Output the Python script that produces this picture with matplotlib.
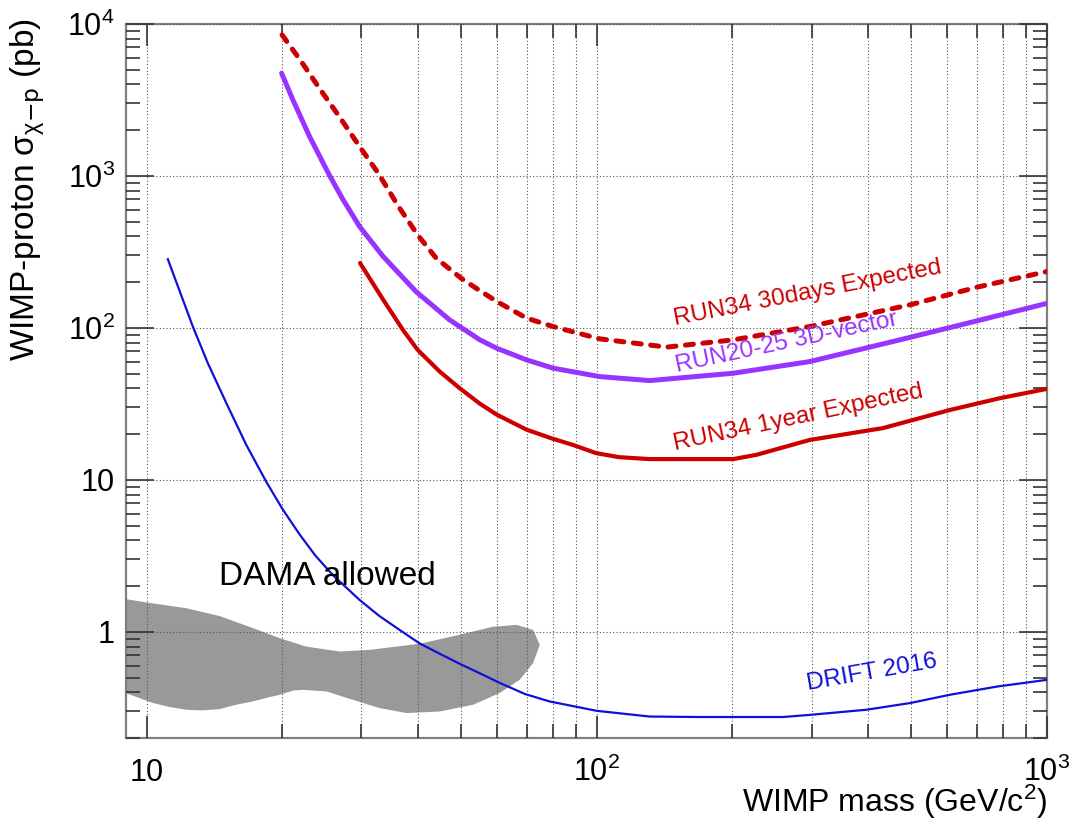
import numpy as np
import matplotlib
matplotlib.use("Agg")
import matplotlib.pyplot as plt
from matplotlib.ticker import FixedLocator, NullFormatter

# --- SETTINGS ---
plt.rcParams["font.family"] = ["Liberation Sans", "DejaVu Sans"]
plt.rcParams["mathtext.default"] = "regular"

# --- DATA ---
# DRIFT 2016 limit
drift_mass = [11.15, 12.67, 13.68, 15.04, 16.65, 18.45, 20.05, 21.9, 23.74, 25.9, 29.73,
              32.9, 37.0, 40.4, 44.8, 49.6, 55, 60.8, 69.2, 78.6, 100, 131, 169, 259,
              297, 397, 497, 608, 773, 1000]
drift_xsec = [283, 102, 58.6, 31.96, 17.0, 9.7, 6.41, 4.35, 3.16, 2.37, 1.62,
              1.27, 1.0, 0.839, 0.717, 0.616, 0.533, 0.462, 0.39, 0.348, 0.302, 0.277,
              0.275, 0.275, 0.284, 0.307, 0.34, 0.385, 0.436, 0.483]

# RUN20-25 3D-vector
run2025_mass = [19.95, 21.14, 23.02, 25.5, 27.3, 29.73, 33.5, 39.7, 47.1, 55, 59.9,
                69.8, 80, 101.5, 131, 201, 297, 471, 663, 1000]
run2025_xsec = [4740, 3162, 1814, 1005, 700, 464, 296, 173, 112.9, 83.4, 73.5,
                61.6, 54.3, 47.8, 45, 50.3, 60, 83.4, 107, 145]

# RUN34 30days expected
run34_30d_mass = [20.0, 22.07, 24.2, 26.8, 29.73, 32.7, 36.2, 40, 44.0, 50.0, 54.0,
                  60, 69.8, 80, 101.5, 143, 201, 297, 497, 698, 1000]
run34_30d_xsec = [8470, 5650, 3776, 2456, 1560, 1042, 635, 409, 287, 212, 182,
                  149, 116, 102, 84.7, 74.7, 83.4, 102, 142, 185, 235]

# RUN34 1year expected
run34_1y_mass = [29.8, 33.5, 37.1, 40, 44.8, 49.6, 55, 59.9, 69.8, 80, 88.4, 99.6,
                 112, 131, 155, 201, 226, 297, 432, 608, 787, 1000]
run34_1y_xsec = [267, 154, 97, 71.7, 51.5, 40.1, 31.7, 26.9, 21.4, 18.6, 17.0, 15.0,
                 14.1, 13.7, 13.7, 13.7, 14.6, 18.3, 21.9, 28.8, 34.5, 39.7]

# DAMA allowed region (closed contour: upper edge, then lower edge back)
dama_mass = [8.5, 9.0, 10, 12.25, 14.53, 17.2, 19.75, 22.6, 26.85, 31.3, 40.4, 49.6,
             58.8, 66.3, 72.2, 74.7, 72.2, 67.4, 60.8, 53.1, 44.8, 37.8, 32.9, 28.7,
             25.1, 22.25, 21.2, 19.75, 18.76, 17.2, 15.8, 14.53, 13.3, 12.25, 11.25,
             10.33, 9.0, 8.5]
dama_xsec = [1.66, 1.64, 1.56, 1.43, 1.27, 1.06, 0.909, 0.80, 0.742, 0.761, 0.834, 0.956,
             1.08, 1.11, 1.03, 0.82, 0.622, 0.483, 0.395, 0.331, 0.299, 0.292, 0.315,
             0.357, 0.405, 0.415, 0.411, 0.385, 0.372, 0.348, 0.331, 0.31, 0.304, 0.307,
             0.32, 0.34, 0.395, 0.42]

x_major = [10, 100, 1000]
x_major_labels = ["10", "$10^{2}$", "$10^{3}$"]
y_major = [1, 10, 100, 1000, 10000]
y_major_labels = ["1", "10", "$10^{2}$", "$10^{3}$", "$10^{4}$"]

red = "#cc0000"
purple = "#9933ff"
blue = "#1010d8"

# --- CREATE FIGURE ---
fig = plt.figure(figsize=(10.72, 8.26), dpi=100)
ax = fig.add_axes([0.1175, 0.1065, 0.8592, 0.8645])
ax.set_xscale("log")
ax.set_yscale("log")
ax.set_xlim(9, 1000)
ax.set_ylim(0.2, 1e4)

# --- DRAW ---
ax.fill(dama_mass, dama_xsec, color="#999999", lw=0, zorder=1)
ax.plot(drift_mass, drift_xsec, color=blue, lw=1.6, zorder=3,
        solid_joinstyle="round")
ax.plot(run2025_mass, run2025_xsec, color=purple, lw=3.6, zorder=3,
        solid_capstyle="round", solid_joinstyle="round")
ax.plot(run34_1y_mass, run34_1y_xsec, color=red, lw=3.0, zorder=3,
        solid_capstyle="round", solid_joinstyle="round")
ax.plot(run34_30d_mass, run34_30d_xsec, color=red, lw=3.6, zorder=3,
        linestyle=(0, (1.6, 1.9)), dash_capstyle="round")

# --- AXES / TICKS ---
minor_x = [m * 10 ** k for k in range(0, 3) for m in range(2, 10)]
minor_x = [v for v in minor_x if 9 < v < 1000]
minor_y = [m * 10 ** k for k in range(-1, 4) for m in range(2, 10)]
minor_y = [v for v in minor_y if 0.2 <= v < 1e4]

ax.xaxis.set_major_locator(FixedLocator(x_major))
ax.xaxis.set_minor_locator(FixedLocator(minor_x))
ax.yaxis.set_major_locator(FixedLocator(y_major))
ax.yaxis.set_minor_locator(FixedLocator(minor_y))
ax.set_xticklabels(x_major_labels)
ax.set_yticklabels(y_major_labels)
ax.xaxis.set_minor_formatter(NullFormatter())
ax.yaxis.set_minor_formatter(NullFormatter())

ax.tick_params(axis="both", which="both", direction="in", top=True, right=True,
               color="#333333", width=1.2)
ax.tick_params(axis="x", which="major", length=16, labelsize=22, pad=31)
ax.tick_params(axis="x", which="minor", length=10)
ax.tick_params(axis="y", which="major", length=20, labelsize=22, pad=8)
ax.tick_params(axis="y", which="minor", length=10)
for lab in ax.get_xticklabels():
    lab.set_verticalalignment("baseline")

for sp in ax.spines.values():
    sp.set_color("#808080")
    sp.set_linewidth(1.6)

ax.set_axisbelow(False)
ax.grid(True, which="both", axis="x", color="#555555", linestyle=(0, (1, 2)), lw=0.8)
ax.grid(True, which="major", axis="y", color="#555555", linestyle=(0, (1, 2)), lw=0.8)

# --- AXIS TITLES ---
ax.set_xlabel("WIMP mass (GeV/c$^{2}$)", fontsize=23, loc="right")
ax.xaxis.label.set_verticalalignment("baseline")
ax.xaxis.set_label_coords(1.0, -0.1036)
ax.set_ylabel(r"WIMP-proton $\sigma_{\chi\mathrm{-p}}$ (pb)", fontsize=24, loc="top")
ax.yaxis.set_label_coords(-0.086, 1.008)

# --- CURVE LABELS ---
lbl = dict(ha="left", va="baseline", rotation_mode="anchor", fontsize=17.5)
ax.text(149, 105, "RUN34 30days Expected", color=red, rotation=11, **lbl)
ax.text(150.5, 51.6, "RUN20-25 3D-vector", color=purple, rotation=12, **lbl)
ax.text(149, 15.7, "RUN34 1year Expected", color=red, rotation=12, **lbl)
ax.text(294, 0.416, "DRIFT 2016", color=blue, rotation=10, **lbl)
ax.text(14.5, 2.04, "DAMA allowed", color="black", ha="left", va="baseline",
        fontsize=24)

fig.savefig("out.png", dpi=100)
plt.close(fig)
